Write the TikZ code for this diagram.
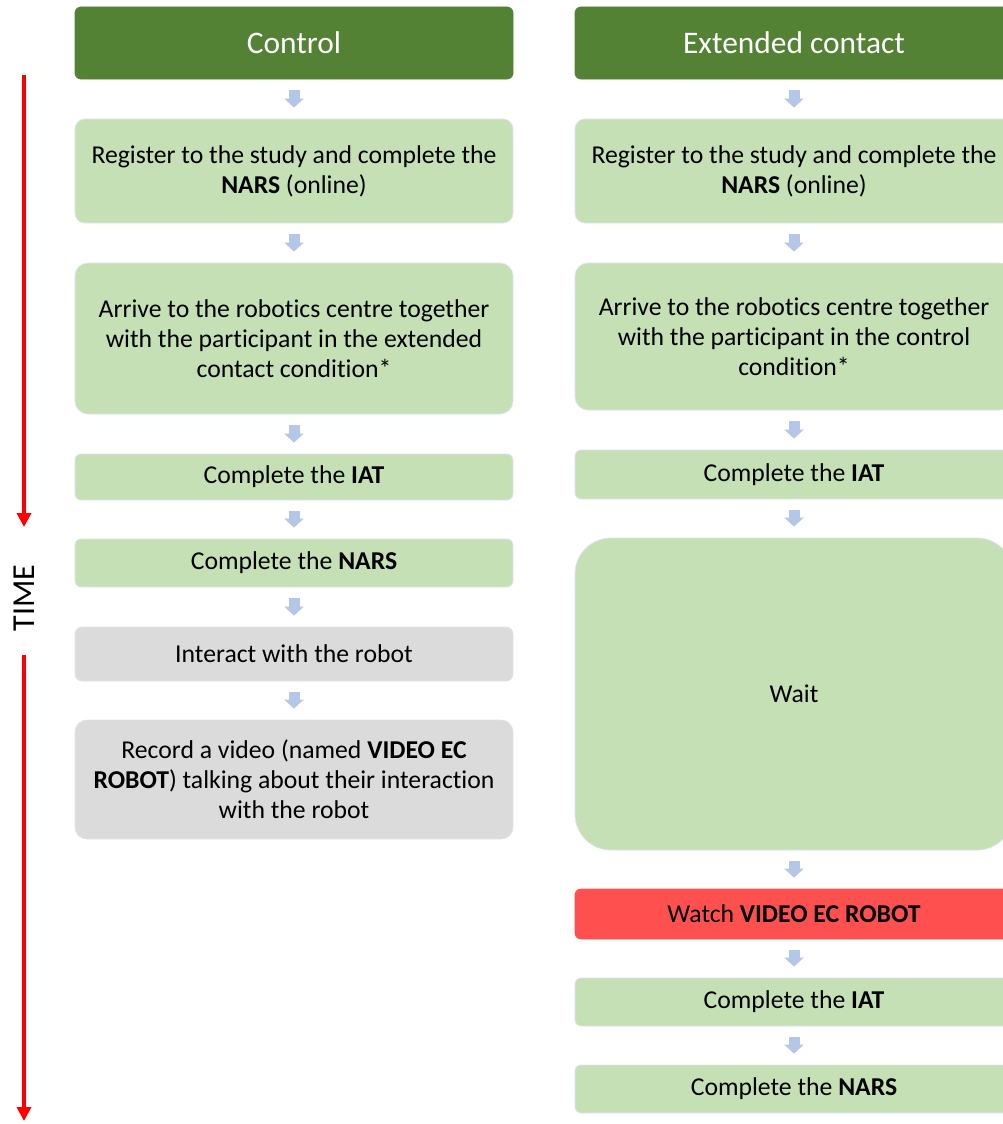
\documentclass[tikz,border=0pt]{standalone}
\usepackage{fontspec}
\setmainfont{Carlito}[Ligatures=NoCommon]
\usetikzlibrary{arrows.meta}
\definecolor{headgreen}{RGB}{84,130,53}
\definecolor{lightgreen}{RGB}{197,224,180}
\definecolor{lightgrey}{RGB}{219,219,219}
\definecolor{watchred}{RGB}{255,80,80}
\definecolor{arrowblue}{RGB}{180,199,231}
\definecolor{edgeblue}{RGB}{220,228,238}
\definecolor{timered}{RGB}{255,0,0}

\tikzset{
  stage/.style={draw=edgeblue, line width=0.8pt, fill=lightgreen, minimum width=438pt, inner sep=0pt, align=center, font=\fontsize{25.7}{30}\selectfont},
  headbox/.style={stage, fill=headgreen, draw=headgreen, text=white, rounded corners=6pt, font=\fontsize{31.4}{36}\selectfont},
  flow/.style={arrowblue, line width=11pt, -{Triangle[width=19pt,length=9pt]}, shorten <=11pt, shorten >=11pt},
  timeline/.style={timered, line width=3.5pt, -{Triangle[width=14pt,length=14pt]}}
}

\begin{document}
\begin{tikzpicture}[x=1pt,y=-1pt]
    \useasboundingbox (0,0) rectangle (1003,1124);
    \clip (0,0) rectangle (1003,1124);

    % time axis
    \coordinate (t1) at (24,75);
    \coordinate (t2) at (24,527);
    \coordinate (t3) at (24,655);
    \coordinate (t4) at (24,1121);
    \node[rotate=90, font=\fontsize{32}{36}\selectfont] (time) at (24,598) {TIME};
    \draw[timeline] (t1) -- (t2);
    \draw[timeline] (t3) -- (t4);

    % control condition
    \node[headbox, minimum height=72pt] (ctlhead) at (294,43) {Control};
    \node[stage, minimum height=104pt, rounded corners=10pt] (ctl1) at (294,171) {Register to the study and complete the\\\textbf{NARS} (online)};
    \node[stage, minimum height=151pt, rounded corners=13pt] (ctl2) at (294,338.5) {Arrive to the robotics centre together\\with the participant in the extended\\contact condition*};
    \node[stage, minimum height=46pt, rounded corners=6pt] (ctl3) at (294,477) {Complete the \textbf{IAT}};
    \node[stage, minimum height=48pt, rounded corners=6pt] (ctl4) at (294,563) {Complete the \textbf{NARS}};
    \node[stage, fill=lightgrey, minimum height=54pt, rounded corners=7pt] (ctl5) at (294,654) {Interact with the robot};
    \node[stage, fill=lightgrey, minimum height=119pt, rounded corners=12pt] (ctl6) at (294,779.5) {Record a video (named \textbf{VIDEO EC}\\\textbf{ROBOT}) talking about their interaction\\with the robot};

    \draw[flow] (ctlhead.south) -- (ctl1.north);
    \draw[flow] (ctl1.south) -- (ctl2.north);
    \draw[flow] (ctl2.south) -- (ctl3.north);
    \draw[flow] (ctl3.south) -- (ctl4.north);
    \draw[flow] (ctl4.south) -- (ctl5.north);
    \draw[flow] (ctl5.south) -- (ctl6.north);

    % extended contact condition
    \node[headbox, minimum height=72pt] (echead) at (794,43) {Extended contact};
    \node[stage, minimum height=104pt, rounded corners=10pt] (ec1) at (794,171) {Register to the study and complete the\\\textbf{NARS} (online)};
    \node[stage, minimum height=147pt, rounded corners=13pt] (ec2) at (794,336.5) {Arrive to the robotics centre together\\with the participant in the control\\condition*};
    \node[stage, minimum height=49pt, rounded corners=6pt] (ec3) at (794,474.5) {Complete the \textbf{IAT}};
    \node[stage, minimum height=312pt, rounded corners=36pt] (ec4) at (794,694) {Wait};
    \node[stage, fill=watchred, draw=watchred, minimum height=50pt, rounded corners=6pt] (ec5) at (794,914) {Watch \textbf{VIDEO EC ROBOT}};
    \node[stage, minimum height=48pt, rounded corners=6pt] (ec6) at (794,1002) {Complete the \textbf{IAT}};
    \node[stage, minimum height=48pt, rounded corners=6pt] (ec7) at (794,1089) {Complete the \textbf{NARS}};

    \draw[flow] (echead.south) -- (ec1.north);
    \draw[flow] (ec1.south) -- (ec2.north);
    \draw[flow] (ec2.south) -- (ec3.north);
    \draw[flow] (ec3.south) -- (ec4.north);
    \draw[flow] (ec4.south) -- (ec5.north);
    \draw[flow] (ec5.south) -- (ec6.north);
    \draw[flow] (ec6.south) -- (ec7.north);
\end{tikzpicture}
\end{document}
